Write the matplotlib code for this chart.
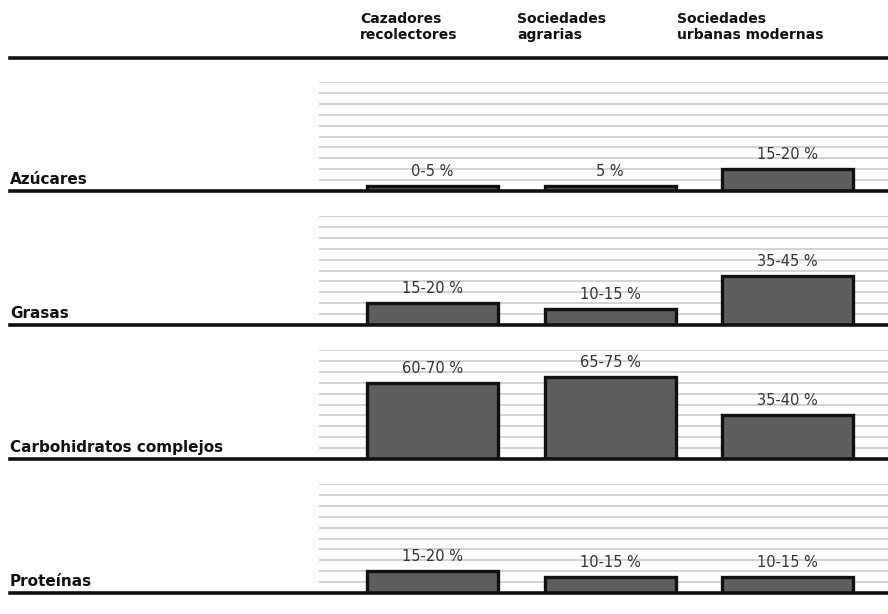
import matplotlib.pyplot as plt
from matplotlib.lines import Line2D

# porcentaje de la energía de la dieta (rango mínimo-máximo) por tipo de sociedad
grupos = ["Cazadores\nrecolectores", "Sociedades\nagrarias", "Sociedades\nurbanas modernas"]
nutrientes = ["Azúcares", "Grasas", "Carbohidratos complejos", "Proteínas"]

azucares_min = [0, 5, 15]
azucares_max = [5, 5, 20]
grasas_min = [15, 10, 35]
grasas_max = [20, 15, 45]
carbo_min = [60, 65, 35]
carbo_max = [70, 75, 40]
prot_min = [15, 10, 10]
prot_max = [20, 15, 15]

minimos = [azucares_min, grasas_min, carbo_min, prot_min]
maximos = [azucares_max, grasas_max, carbo_max, prot_max]


def etiqueta(lo, hi):
    if lo == hi:
        return f"{hi} %"
    return f"{lo}-{hi} %"


W, H = 888, 614
fig = plt.figure(figsize=(W / 100, H / 100), dpi=100)

# posiciones en pixeles de la maqueta
baselines = [191, 325, 459, 593]
escala = 1.09          # px por punto porcentual
x0_px, dx_px = 432.5, 177.5
izq_px, der_px = 10, 888
grid_px = 319
ancho = 131 / dx_px

for i, nombre in enumerate(nutrientes):
    ax = fig.add_axes([izq_px / W, (H - baselines[i]) / H,
                       (der_px - izq_px) / W, 100 * escala / H])
    xmin = (izq_px - x0_px) / dx_px
    xmax = (der_px - x0_px) / dx_px
    ax.set_xlim(xmin, xmax)
    ax.set_ylim(0, 100)
    ax.axis("off")

    xg = (grid_px - x0_px) / dx_px
    ax.hlines(range(10, 101, 10), xg, xmax, color="#c8c8c8", lw=1.1, zorder=1)

    x = range(len(grupos))
    ax.bar(x, maximos[i], width=ancho, color="#5e5e5e", edgecolor="#111111",
           lw=2.4, zorder=3)
    ax.axhline(0, color="#111111", lw=2.6, zorder=4, clip_on=False)

    for xi, lo, hi in zip(x, minimos[i], maximos[i]):
        ax.annotate(etiqueta(lo, hi), (xi, hi), xytext=(0, 5),
                    textcoords="offset points", ha="center", va="bottom",
                    fontsize=10.5, color="#333333", zorder=5)

    ax.text(xmin, 4, nombre, fontsize=11, fontweight="bold", color="#111111",
            ha="left", va="bottom")

# cabecera
cab_x = [360, 517, 677]
for g, xp in zip(grupos, cab_x):
    fig.text(xp / W, 1 - 12 / H, g, fontsize=10, fontweight="bold",
             color="#111111", ha="left", va="top", linespacing=1.15)

fig.add_artist(Line2D([izq_px / W, 1], [1 - 58 / H] * 2, color="#111111", lw=2.6))

fig.savefig("out.png", dpi=100)
